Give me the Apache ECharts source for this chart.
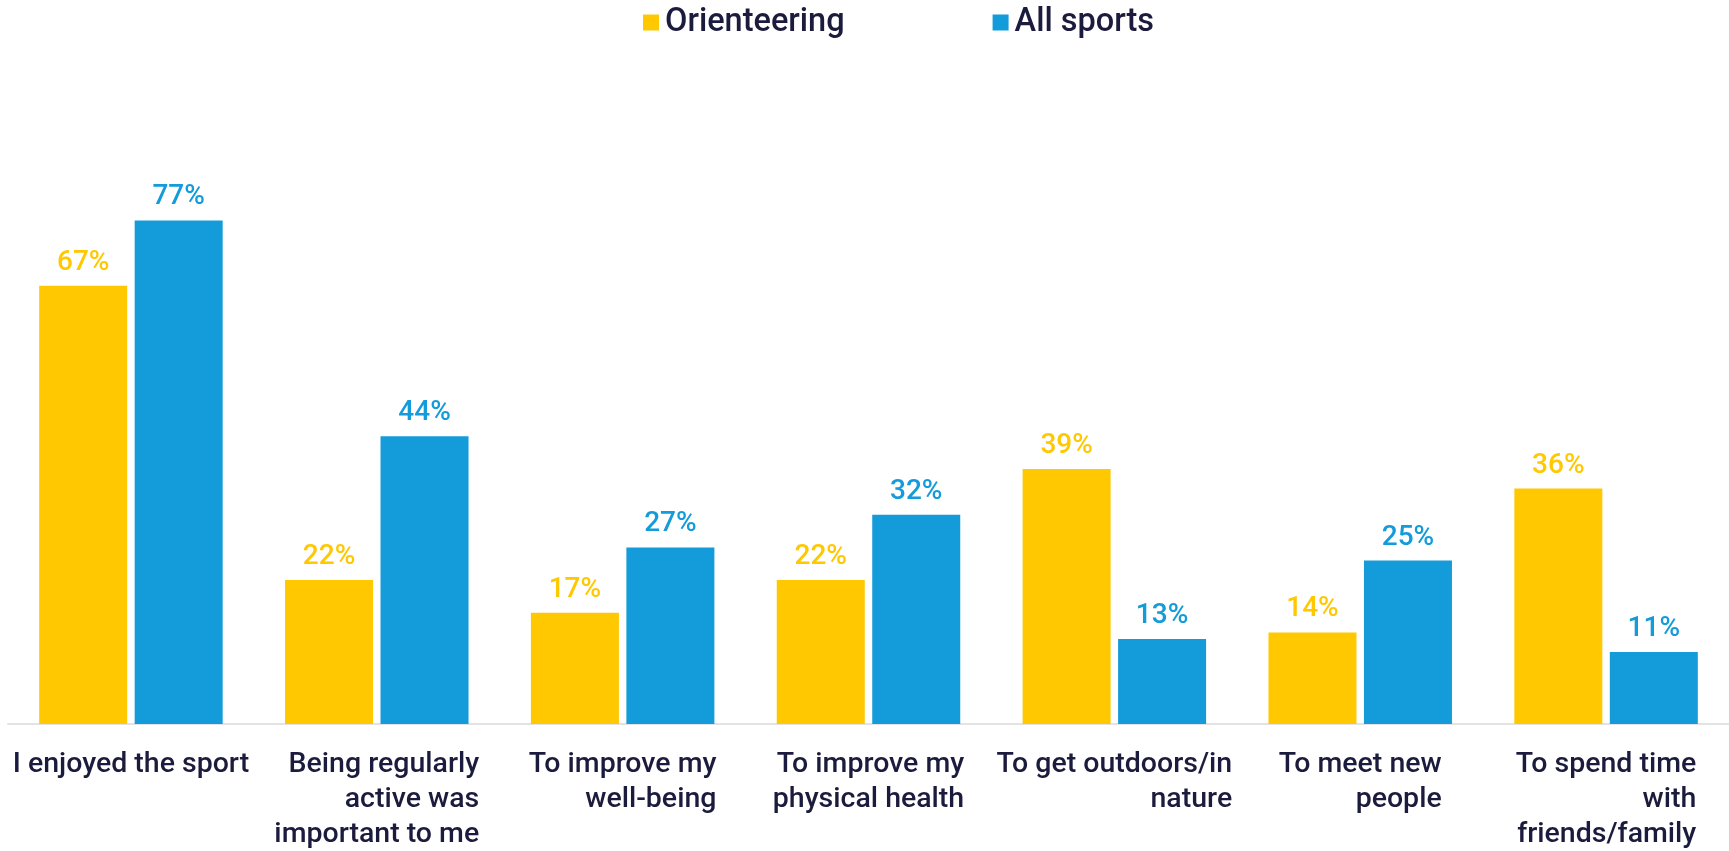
<!DOCTYPE html>
<html>
<head>
<meta charset="utf-8">
<script src="https://cdn.jsdelivr.net/npm/echarts@6/dist/echarts.min.js"></script>
<style>
  html, body { margin: 0; padding: 0; background: #ffffff; }
  #chart { width: 1729px; height: 851px; }
</style>
</head>
<body>
<div id="chart"></div>
<script>
// Reasons for taking part (% of respondents)
const categories = [
  'I enjoyed the sport',
  'Being regularly\nactive was\nimportant to me',
  'To improve my\nwell-being',
  'To improve my\nphysical health',
  'To get outdoors/in\nnature',
  'To meet new\npeople',
  'To spend time\nwith\nfriends/family'
];
const orienteering = [67, 22, 17, 22, 39, 14, 36];
const allSports = [77, 44, 27, 32, 13, 25, 11];

const FONT = 'Roboto, "DejaVu Sans", sans-serif';
const INK = '#1b1b3d';
const YELLOW = '#FFC800';
const BLUE = '#139BDA';

const chart = echarts.init(document.getElementById('chart'), null, { renderer: 'canvas' });

const valueLabel = color => ({
  show: true,
  position: 'top',
  distance: 9,
  formatter: p => p.value + '%',
  color: color,
  fontFamily: FONT,
  fontWeight: 500,
  fontSize: 28
});

chart.setOption({
  animation: false,
  backgroundColor: '#ffffff',
  legend: {
    top: 1,
    left: 638,
    itemWidth: 16,
    itemHeight: 16,
    itemGap: 148,
    icon: 'rect',
    textStyle: { color: INK, fontFamily: FONT, fontWeight: 500, fontSize: 32.5, padding: [0, 0, 0, 1] },
    data: ['Orienteering', 'All sports']
  },
  grid: { left: 8, right: -9, top: 70, bottom: 127, containLabel: false },
  xAxis: {
    type: 'category',
    data: categories,
    axisLine: { show: true, lineStyle: { color: '#e3e3e3', width: 2 } },
    axisTick: { show: false },
    axisLabel: {
      interval: 0,
      margin: 23,
      align: 'center',
      formatter: v => v.split('\n').map(line => '{r|' + line + '}').join('\n'),
      rich: {
        r: {
          align: 'right',
          color: INK,
          fontFamily: FONT,
          fontWeight: 500,
          fontSize: 28.5,
          lineHeight: 35
        }
      }
    }
  },
  yAxis: {
    type: 'value',
    min: 0,
    max: 100,
    show: false,
    splitLine: { show: false }
  },
  series: [
    {
      name: 'Orienteering',
      type: 'bar',
      data: orienteering,
      barWidth: 88,
      barGap: '8.5%',
      itemStyle: { color: YELLOW },
      label: valueLabel(YELLOW)
    },
    {
      name: 'All sports',
      type: 'bar',
      data: allSports,
      barWidth: 88,
      barGap: '8.5%',
      itemStyle: { color: BLUE },
      label: valueLabel(BLUE)
    }
  ]
});
</script>
</body>
</html>
